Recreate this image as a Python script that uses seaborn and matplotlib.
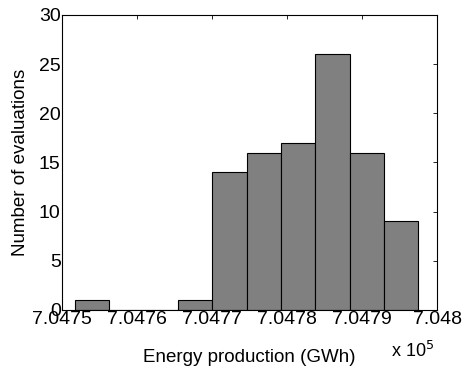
import numpy as np
import matplotlib
matplotlib.use("Agg")
import matplotlib.pyplot as plt
import seaborn as sns
from matplotlib.ticker import FuncFormatter

# === Histogram data (energy in GWh) ===
bin_edges = [704751.73, 704756.31, 704760.89, 704765.46, 704770.04, 704774.62,
             704779.20, 704783.78, 704788.35, 704792.93, 704797.51]
counts = [1, 0, 0, 1, 14, 16, 17, 26, 16, 9]
x_ticks = [704750, 704760, 704770, 704780, 704790, 704800]
y_ticks = [0, 5, 10, 15, 20, 25, 30]

bin_centers = [(a + b) / 2 for a, b in zip(bin_edges[:-1], bin_edges[1:])]

sns.set_style("white")
plt.rcParams["font.family"] = ["Liberation Sans", "DejaVu Sans"]
plt.rcParams["text.color"] = "black"
plt.rcParams["axes.labelcolor"] = "black"
plt.rcParams["xtick.color"] = "black"
plt.rcParams["ytick.color"] = "black"

fig, ax = plt.subplots(figsize=(4.63, 3.73), dpi=100)
fig.subplots_adjust(left=0.134, right=0.944, top=0.960, bottom=0.169)

sns.histplot(x=bin_centers, weights=counts, bins=bin_edges, ax=ax,
             color="#808080", alpha=1.0, edgecolor="black", linewidth=0.8)

ax.set_xlim(704750, 704800)
ax.set_ylim(0, 30)
ax.set_xticks(x_ticks)
ax.set_yticks(y_ticks)
ax.xaxis.set_major_formatter(FuncFormatter(lambda v, p: "%g" % (v / 1e5)))
ax.tick_params(direction="in", top=True, right=True, length=3, width=0.6,
               labelsize=14, pad=1)
for s in ax.spines.values():
    s.set_linewidth(0.8)
    s.set_color("black")

ax.set_ylabel("Number of evaluations", fontsize=13.5, labelpad=7)
ax.set_xlabel("Energy production (GWh)", fontsize=13.5, labelpad=15)
ax.text(0.935, -0.105, r"x 10$^5$", transform=ax.transAxes, fontsize=13,
        ha="center", va="top")

plt.savefig("out.png", dpi=100)
plt.close()
